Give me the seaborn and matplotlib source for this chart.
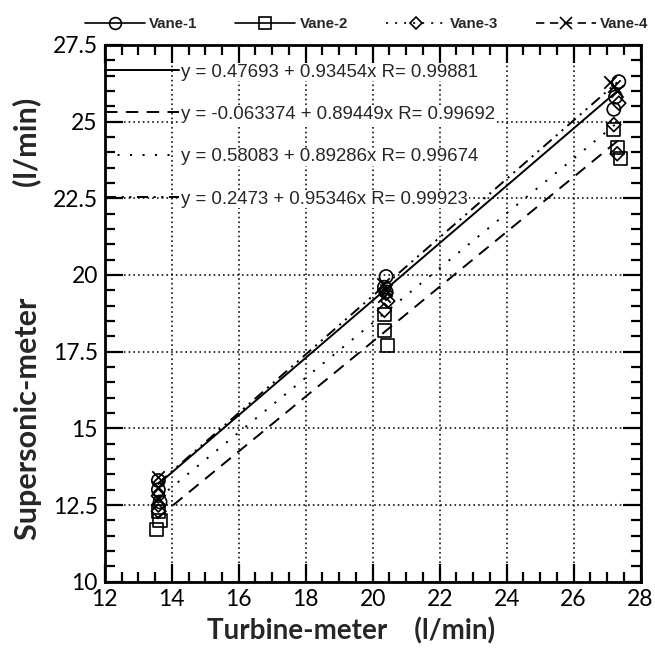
import numpy as np
import pandas as pd
import seaborn as sns
import matplotlib.pyplot as plt
from matplotlib.lines import Line2D
from matplotlib.ticker import MultipleLocator

# data (turbine vs supersonic flow, l/min)
vanes = ['Vane-1', 'Vane-2', 'Vane-3', 'Vane-4']
markers = ['o', 's', 'D', 'x']

v1_x = [13.6, 13.6, 13.65, 20.4, 20.35, 20.4, 27.35, 27.25, 27.2]
v1_y = [13.3, 13.0, 12.6, 19.95, 19.6, 19.45, 26.3, 25.8, 25.4]
v2_x = [13.55, 13.65, 13.6, 20.35, 20.35, 20.45, 27.2, 27.3, 27.4]
v2_y = [11.7, 12.0, 12.3, 18.7, 18.2, 17.7, 24.75, 24.15, 23.8]
v3_x = [13.6, 13.6, 13.6, 20.4, 20.45, 20.35, 27.35, 27.2, 27.3]
v3_y = [12.8, 12.5, 12.3, 19.4, 19.15, 18.85, 25.6, 24.9, 23.95]
v4_x = [13.6, 13.6, 13.6, 20.3, 20.4, 20.35, 27.1, 27.2, 27.3]
v4_y = [13.4, 13.1, 12.7, 19.7, 19.5, 19.3, 26.3, 26.15, 26.0]

# fitted lines y = a + b x, R
fit_a = [0.47693, -0.063374, 0.58083, 0.2473]
fit_b = [0.93454, 0.89449, 0.89286, 0.95346]
fit_r = [0.99881, 0.99692, 0.99674, 0.99923]

fit_styles = ['-', (0, (9, 6)), (0, (1.5, 7.5)), (0, (8, 4, 1.5, 4, 1.5, 4))]
leg_styles = ['-', '-', (0, (1.5, 5)), (0, (6, 4))]

xs = [v1_x, v2_x, v3_x, v4_x]
ys = [v1_y, v2_y, v3_y, v4_y]

sns.set_style('ticks')
plt.rcParams['lines.scale_dashes'] = False
plt.rcParams['font.family'] = ['Lato', 'DejaVu Sans']

fig = plt.figure(figsize=(6.55, 6.5), dpi=100)
ax = fig.add_axes([0.16, 0.105, 0.818, 0.826])

fit_lines = []
for i in range(4):
    x0, x1 = min(xs[i]), max(xs[i])
    fx = np.array([x0, x1])
    fy = fit_a[i] + fit_b[i] * fx
    sns.lineplot(x=fx, y=fy, ax=ax, color='black', lw=1.4,
                 linestyle=fit_styles[i], zorder=3)
    fit_lines.append(ax.lines[-1])

for i in range(4):
    df = pd.DataFrame({'turbine': xs[i], 'supersonic': ys[i]})
    if markers[i] == 'x':
        sns.scatterplot(data=df, x='turbine', y='supersonic', ax=ax,
                        marker='x', s=80, color='black', linewidth=1.3, zorder=4)
    else:
        size = 90 if markers[i] != 'D' else 50
        sns.scatterplot(data=df, x='turbine', y='supersonic', ax=ax,
                        marker=markers[i], s=size, facecolor='none',
                        edgecolor='black', linewidth=1.2, zorder=4)

ax.set_xlim(12, 28)
ax.set_ylim(10, 27.5)
ax.xaxis.set_major_locator(MultipleLocator(2))
ax.xaxis.set_minor_locator(MultipleLocator(0.5))
ax.yaxis.set_major_locator(MultipleLocator(2.5))
ax.yaxis.set_minor_locator(MultipleLocator(0.5))
ax.set_yticks([10, 12.5, 15, 17.5, 20, 22.5, 25, 27.5])
ax.set_yticklabels(['10', '12.5', '15', '17.5', '20', '22.5', '25', '27.5'])
ax.grid(True, which='major', color='black', linestyle=(0, (1.2, 2.2)), lw=1.1)
ax.tick_params(which='both', direction='in', top=True, right=True,
               labelsize=16.5, colors='black', width=1.6)
ax.tick_params(which='major', length=13, pad=5)
ax.tick_params(which='minor', length=7)
for s in ax.spines.values():
    s.set_linewidth(2)
    s.set_color('black')

ax.set_xlabel('Turbine-meter    (l/min)', fontsize=20, fontweight='bold')
ax.xaxis.set_label_coords(0.46, -0.066)
ax.set_ylabel('Supersonic-meter' + ' ' * 15 + '(l/min)', fontsize=22, fontweight='bold')
ax.yaxis.set_label_coords(-0.118, 0.49)

eq_labels = ['y = %g + %gx R= %g' % (fit_a[i], fit_b[i], fit_r[i]) for i in range(4)]
leg2 = ax.legend(fit_lines, eq_labels, loc='upper left', bbox_to_anchor=(0.0, 0.965),
                 frameon=False, handlelength=4.0, handletextpad=0.1,
                 labelspacing=1.36, borderaxespad=0, borderpad=0,
                 prop={'family': 'Liberation Sans', 'size': 13.4})
for t in leg2.get_texts():
    t.set_bbox(dict(fc='white', ec='none', pad=0.5))

handles = [Line2D([], [], color='black', lw=1.2, linestyle=leg_styles[i],
                  marker=markers[i], markersize=8.5 if markers[i] != 'D' else 6.5,
                  markerfacecolor='none', markeredgecolor='black',
                  markeredgewidth=1.2) for i in range(4)]
fig.legend(handles, vanes, loc='upper center', bbox_to_anchor=(0.56, 0.995),
           ncol=4, frameon=False, handlelength=4.0, handletextpad=0.3,
           columnspacing=2.5, prop={'family': 'Liberation Sans', 'weight': 'bold', 'size': 10.8})

fig.savefig('out.png', dpi=100)
